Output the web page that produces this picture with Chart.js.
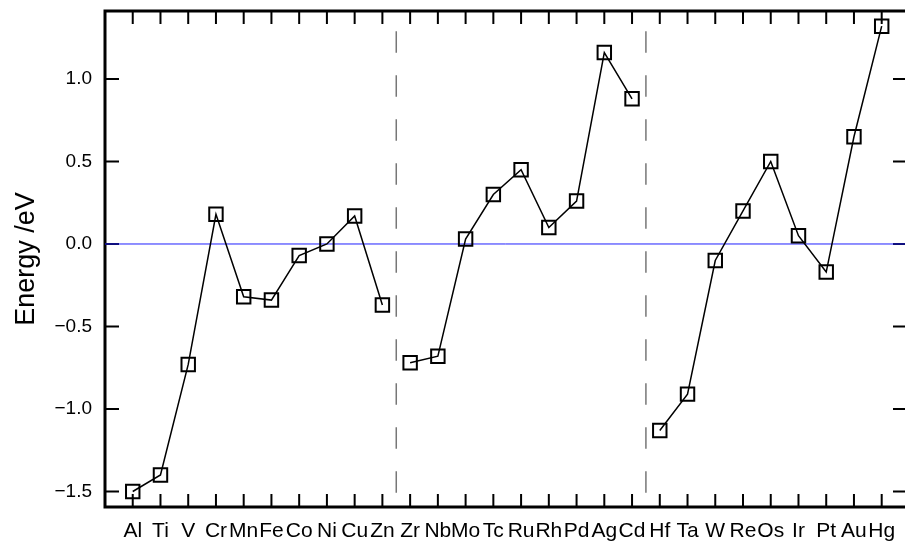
<!DOCTYPE html>
<html>
<head>
<meta charset="utf-8">
<script src="https://cdn.jsdelivr.net/npm/chart.js@4.4.1/dist/chart.umd.min.js"></script>
<style>
  html, body { margin: 0; padding: 0; background: #fff; overflow: hidden; }
  #wrap { width: 905px; height: 548px; }
</style>
</head>
<body>
<div id="wrap"><canvas id="energyChart" width="905" height="548"></canvas></div>
<script>
// elements along the x axis, 3d / 4d / 5d rows
const elements = ['Al', 'Ti', 'V', 'Cr', 'Mn', 'Fe', 'Co', 'Ni', 'Cu', 'Zn',
                  'Zr', 'Nb', 'Mo', 'Tc', 'Ru', 'Rh', 'Pd', 'Ag', 'Cd',
                  'Hf', 'Ta', 'W', 'Re', 'Os', 'Ir', 'Pt', 'Au', 'Hg'];
const energies = [-1.50, -1.40, -0.73, 0.18, -0.32, -0.34, -0.07, 0.00, 0.17, -0.37,
                  -0.72, -0.68, 0.03, 0.30, 0.45, 0.10, 0.26, 1.16, 0.88,
                  -1.13, -0.91, -0.10, 0.20, 0.50, 0.05, -0.17, 0.65, 1.32];
const rowEnds = [9, 18];          // no line from these points to the next one
const dividers = [9.5, 18.5];     // dashed separators between rows
const yTicks = [-1.5, -1.0, -0.5, 0.0, 0.5, 1.0];

const fontFam = '"Liberation Sans", Arial, Helvetica, sans-serif';

function fmt(v) {
    let s = Math.abs(v).toFixed(1);
    return v < 0 ? '\u2212' + s : s;
}

function noPad(s) {
    s.paddingTop = 0; s.paddingBottom = 0;
    s.paddingLeft = 0; s.paddingRight = 0;
}

let points = energies.map((e, i) => ({x: i, y: e}));

let datasets = [{
    data: points,
    borderColor: '#000',
    borderWidth: 1.5,
    pointStyle: 'rect',
    pointRadius: 9.5,
    pointBorderWidth: 2,
    pointBorderColor: '#000',
    pointBackgroundColor: 'rgba(0,0,0,0)',
    segment: {
        borderColor: ctx => rowEnds.includes(ctx.p0DataIndex) ? 'rgba(0,0,0,0)' : '#000'
    }
}, {
    data: [{x: -1, y: 0}, {x: 28, y: 0}],
    borderColor: '#2020ff',
    borderWidth: 1,
    pointRadius: 0
}];
dividers.forEach(d => {
    datasets.push({
        data: [{x: d, y: 1.29}, {x: d, y: -1.51}],
        borderColor: '#777',
        borderWidth: 1.5,
        borderDash: [21.5, 22.5],
        pointRadius: 0
    });
});

// frame (right side falls just outside the picture) with inward ticks
const framePlugin = {
    id: 'frame',
    beforeDatasetsDraw(chart) {
        const {ctx, chartArea: a, scales} = chart;
        ctx.save();
        ctx.strokeStyle = '#000';
        ctx.lineWidth = 2;
        ctx.beginPath();
        elements.forEach((el, i) => {
            let px = scales.x.getPixelForValue(i);
            ctx.moveTo(px, a.top); ctx.lineTo(px, a.top + 13);
            ctx.moveTo(px, a.bottom); ctx.lineTo(px, a.bottom - 13);
        });
        yTicks.forEach(v => {
            let py = scales.y.getPixelForValue(v);
            ctx.moveTo(a.left, py); ctx.lineTo(a.left + 14, py);
            ctx.moveTo(a.right, py); ctx.lineTo(a.right - 12, py);
        });
        ctx.stroke();
        ctx.lineWidth = 3;
        ctx.beginPath();
        ctx.moveTo(a.right + 2, a.top);
        ctx.lineTo(a.left, a.top);
        ctx.lineTo(a.left, a.bottom);
        ctx.lineTo(a.right + 2, a.bottom);
        ctx.stroke();
        ctx.restore();
    }
};

new Chart(document.getElementById('energyChart'), {
    type: 'line',
    data: {datasets: datasets},
    options: {
        responsive: false,
        animation: false,
        layout: {autoPadding: false, padding: {top: 11, right: 0, bottom: 0, left: 0}},
        plugins: {legend: {display: false}, tooltip: {enabled: false}},
        scales: {
            x: {
                type: 'linear',
                min: -1,
                max: 27.84,
                grid: {display: false, drawTicks: false},
                border: {display: false},
                afterBuildTicks: s => { s.ticks = elements.map((e, i) => ({value: i})); },
                afterFit: s => { s.height = 41; noPad(s); },
                ticks: {
                    autoSkip: false,
                    maxRotation: 0,
                    padding: 12,
                    color: '#000',
                    font: {family: fontFam, size: 21},
                    callback: v => elements[v]
                }
            },
            y: {
                min: -1.594,
                max: 1.412,
                grid: {display: false, drawTicks: false},
                border: {display: false},
                afterBuildTicks: s => { s.ticks = yTicks.map(v => ({value: v})); },
                afterFit: s => { s.width = 105; noPad(s); },
                ticks: {
                    padding: 13,
                    color: '#000',
                    font: {family: fontFam, size: 19},
                    callback: v => fmt(v)
                },
                title: {
                    display: true,
                    text: 'Energy /eV',
                    color: '#000',
                    padding: {top: 10, bottom: 0},
                    font: {family: fontFam, size: 27}
                }
            }
        }
    },
    plugins: [framePlugin]
});
</script>
</body>
</html>
